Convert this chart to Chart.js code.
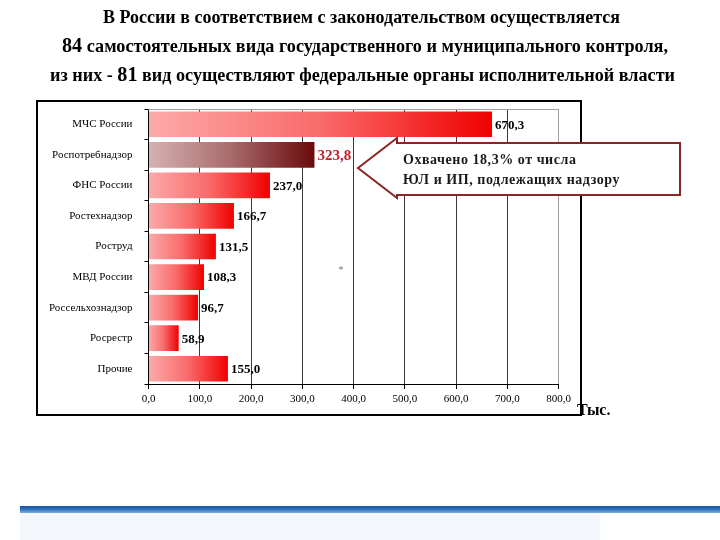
<!DOCTYPE html>
<html>
<head>
<meta charset="utf-8">
<script src="https://cdn.jsdelivr.net/npm/chart.js@4/dist/chart.umd.min.js"></script>
<style>
  html, body { margin: 0; padding: 0; background: #fff; }
  #wrap { position: relative; width: 720px; height: 540px; }
  canvas { display: block; }
</style>
</head>
<body>
<div id="wrap"><canvas id="c" width="720" height="540"></canvas></div>
<script>
// ---- Data ----
const titleLines = [
  'В России в соответствием с законодательством осуществляется',
  '84 самостоятельных вида государственного и муниципального контроля,',
  'из них - 81 вид осуществляют федеральные органы исполнительной власти'
];
const categories = ['МЧС России', 'Роспотребнадзор', 'ФНС России', 'Ростехнадзор', 'Роструд', 'МВД России', 'Россельхознадзор', 'Росрестр', 'Прочие'];
const values = [670.3, 323.8, 237.0, 166.7, 131.5, 108.3, 96.7, 58.9, 155.0];
const highlightIndex = 1;
const calloutLines = ['Охвачено 18,3% от числа', 'ЮЛ и ИП, подлежащих надзору'];
const unitLabel = 'Тыс.';
const xMin = 0, xMax = 800, xStep = 100;

const fmt = v => v.toFixed(1).replace('.', ',');
const SERIF = '"Liberation Serif", "DejaVu Serif", serif';

function barFill(ctx) {
  const chart = ctx.chart;
  const { chartArea, scales } = chart;
  if (!chartArea || ctx.type !== 'data') return '#f00';
  const x0 = scales.x.getPixelForValue(0);
  const x1 = scales.x.getPixelForValue(values[ctx.dataIndex]);
  const g = chart.ctx.createLinearGradient(x0, 0, x1, 0);
  if (ctx.dataIndex === highlightIndex) {
    g.addColorStop(0, '#d6b2b2');
    g.addColorStop(0.5, '#a86a6a');
    g.addColorStop(1, '#6a0a0c');
  } else {
    g.addColorStop(0, '#fcaaaa');
    g.addColorStop(0.5, '#fa6a6a');
    g.addColorStop(1, '#f00000');
  }
  return g;
}

// draw a title line with numbers slightly larger, fitted to a target width
function drawTitleLine(c, text, cx, cy, targetW) {
  const runs = text.split(/(\d+)/).filter(s => s.length);
  const fontFor = r => /^\d+$/.test(r) ? 'bold 20px ' + SERIF : 'bold 18px ' + SERIF;
  let total = 0;
  const widths = runs.map(r => { c.font = fontFor(r); const w = c.measureText(r).width; total += w; return w; });
  const sx = targetW / total;
  c.save();
  c.translate(cx - targetW / 2, cy);
  c.scale(sx, 1);
  c.textAlign = 'left';
  c.textBaseline = 'alphabetic';
  let x = 0;
  runs.forEach((r, i) => { c.font = fontFor(r); c.fillText(r, x, 6); x += widths[i]; });
  c.restore();
}

const decor = {
  id: 'decor',
  beforeDraw(chart) {
    const c = chart.ctx;
    c.save();
    c.fillStyle = '#fff';
    c.fillRect(0, 0, chart.width, chart.height);
    // faint light-blue band at bottom
    c.fillStyle = '#f3f7fb';
    c.fillRect(20, 512, 580, 28);
    // bottom blue rule
    const g = c.createLinearGradient(0, 506, 0, 513);
    g.addColorStop(0, '#16539a');
    g.addColorStop(0.5, '#2f72bd');
    g.addColorStop(1, '#7fb0e0');
    c.fillStyle = g;
    c.fillRect(20, 506, 700, 7);
    // title
    c.fillStyle = '#000';
    const targets = [[361.5, 17, 517], [365, 46, 606], [362.5, 75, 625]];
    titleLines.forEach((t, i) => {
      const [cx, cy, w] = targets[i];
      drawTitleLine(c, t, cx, cy, w);
    });
    c.restore();
  },
  afterDraw(chart) {
    const c = chart.ctx;
    const a = chart.chartArea;
    c.save();
    // plot top border
    c.strokeStyle = '#a0a0a0';
    c.lineWidth = 1;
    c.beginPath();
    c.moveTo(a.left, a.top + 0.5);
    c.lineTo(a.right, a.top + 0.5);
    c.stroke();
    // outer frame
    c.strokeStyle = '#000';
    c.lineWidth = 2;
    c.strokeRect(37, 101, 544, 314);
    // asterisk
    c.fillStyle = '#777';
    c.font = '10px ' + SERIF;
    c.textAlign = 'center';
    c.textBaseline = 'middle';
    c.fillText('*', 341, 270);
    // callout arrow
    c.beginPath();
    c.moveTo(358, 168);
    c.lineTo(397, 138);
    c.lineTo(397, 143);
    c.lineTo(680, 143);
    c.lineTo(680, 195);
    c.lineTo(397, 195);
    c.lineTo(397, 198);
    c.closePath();
    c.fillStyle = '#fff';
    c.fill();
    c.strokeStyle = '#8b2426';
    c.lineWidth = 2;
    c.stroke();
    c.fillStyle = '#1a1a1a';
    c.font = 'bold 14px ' + SERIF;
    c.textAlign = 'left';
    c.textBaseline = 'middle';
    if ('letterSpacing' in c) c.letterSpacing = '0.55px';
    c.fillText(calloutLines[0], 403, 160);
    c.fillText(calloutLines[1], 403, 180);
    if ('letterSpacing' in c) c.letterSpacing = '0px';
    // unit
    c.fillStyle = '#000';
    c.font = 'bold 16px ' + SERIF;
    c.fillText(unitLabel, 577, 411);
    c.restore();
  },
  afterDatasetsDraw(chart) {
    const c = chart.ctx;
    const meta = chart.getDatasetMeta(0);
    c.save();
    c.textAlign = 'left';
    c.textBaseline = 'middle';
    meta.data.forEach((el, i) => {
      if (i === highlightIndex) {
        c.font = 'bold 15px ' + SERIF;
        c.fillStyle = '#c4202a';
      } else {
        c.font = 'bold 13px ' + SERIF;
        c.fillStyle = '#000';
      }
      c.fillText(fmt(values[i]), el.x + 3, el.y + 1);
    });
    c.restore();
  }
};

new Chart(document.getElementById('c'), {
  type: 'bar',
  data: {
    labels: categories,
    datasets: [{
      data: values,
      backgroundColor: barFill,
      borderWidth: 0,
      barPercentage: 0.84,
      categoryPercentage: 1
    }]
  },
  options: {
    indexAxis: 'y',
    responsive: false,
    animation: false,
    events: [],
    layout: { padding: { top: 109, left: 0, right: 161.5, bottom: 125 } },
    plugins: { legend: { display: false }, tooltip: { enabled: false } },
    scales: {
      x: {
        min: xMin, max: xMax,
        afterFit: s => { s.height = 31; },
        ticks: {
          stepSize: xStep,
          color: '#000',
          font: { family: SERIF, size: 11 },
          padding: 4,
          callback: v => fmt(v)
        },
        grid: {
          color: ctx => (ctx.tick && ctx.tick.value === xMax) ? '#a0a0a0' : '#3a3a3a',
          tickColor: '#000',
          tickLength: 5,
          lineWidth: 1
        },
        border: { color: '#000', width: 1 }
      },
      y: {
        afterFit: s => { s.width = 148.5; },
        ticks: {
          color: '#000',
          font: { family: SERIF, size: 11 },
          padding: 12
        },
        grid: {
          drawOnChartArea: false,
          offset: true,
          tickColor: '#000',
          tickLength: 4
        },
        border: { color: '#000', width: 1 }
      }
    }
  },
  plugins: [decor]
});
</script>
</body>
</html>
